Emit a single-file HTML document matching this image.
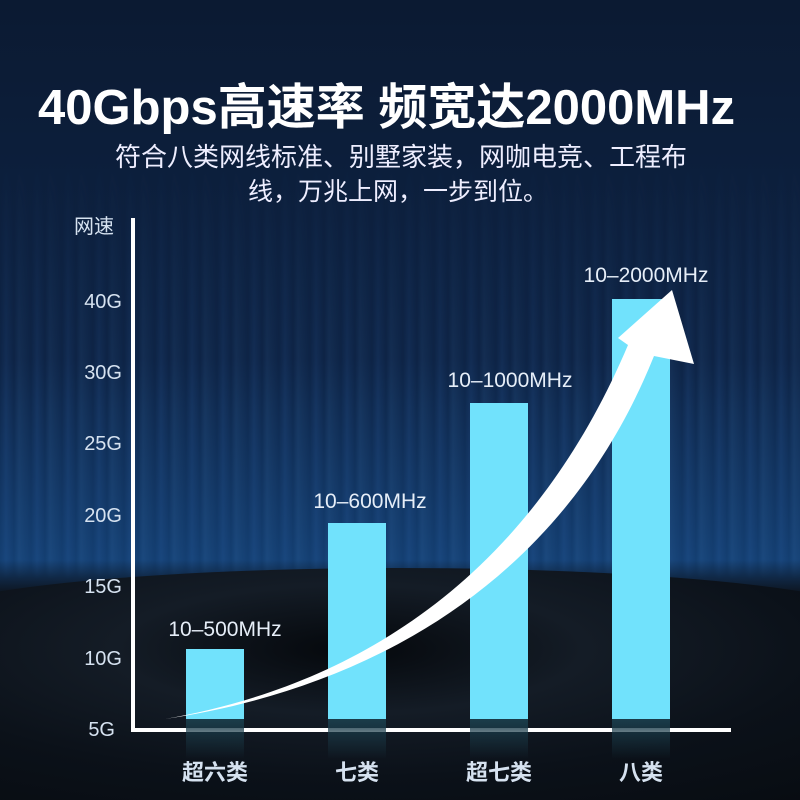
<!DOCTYPE html>
<html><head><meta charset="utf-8"><style>
html,body{margin:0;padding:0;width:800px;height:800px;overflow:hidden}
body{position:relative;font-family:"Liberation Sans","Noto Sans CJK SC",sans-serif;
background:linear-gradient(180deg,#0b1a32 0%,#0e2446 45%,#143f72 70%,#0d1622 74%,#0a1018 100%);}
.streaks{position:absolute;left:0;top:150px;width:800px;height:430px;opacity:.55;
background:repeating-linear-gradient(90deg,rgba(60,120,200,.0) 0px,rgba(60,120,200,.25) 6px,rgba(20,50,100,0) 14px,rgba(90,160,230,.18) 19px,rgba(0,0,0,0) 31px);
-webkit-mask:linear-gradient(180deg,transparent,#000 60%,#000 95%,transparent);}
.road{position:absolute;left:-100px;top:568px;width:1000px;height:232px;border-radius:50% 50% 0 0/25% 25% 0 0;background:radial-gradient(ellipse at 45% 35%,#05080c 0%,#141c26 30%,#0b1119 60%,#070b10 100%);}
.t{position:absolute;color:#fff;white-space:nowrap}
.yl{position:absolute;color:#d6e2f0;font-size:20px;width:60px;text-align:right}
.bar{position:absolute;background:#71e2fc;width:58px}
.ref{position:absolute;width:58px;height:40px;top:719px;background:linear-gradient(#1a3c4a,rgba(10,20,30,0))}
.bl{position:absolute;color:#e6eef8;font-size:21px;text-align:center;width:180px;white-space:nowrap}
.xl{position:absolute;color:#d6e2f0;font-size:22px;font-weight:bold;text-align:center;width:120px;top:755px}
</style></head><body>
<div class="streaks"></div>
<div class="road"></div>
<div class="t" style="left:38px;top:68px;font-size:49px;font-weight:bold;">40Gbps高速率 频宽达2000MHz</div>
<div class="t" style="left:115px;top:137px;font-size:26px;color:#eef">符合八类网线标准、别墅家装，网咖电竞、工程布</div>
<div class="t" style="left:248px;top:172px;font-size:25px;color:#eef">线，万兆上网，一步到位。</div>
<div class="t" style="left:74px;top:210px;font-size:20px;color:#d6e2f0">网速</div>
<div class="yl" style="top:291px;left:62px">40G</div>
<div class="yl" style="top:362px;left:62px">30G</div>
<div class="yl" style="top:433px;left:62px">25G</div>
<div class="yl" style="top:505px;left:62px">20G</div>
<div class="yl" style="top:576px;left:62px">15G</div>
<div class="yl" style="top:648px;left:62px">10G</div>
<div class="yl" style="top:719px;left:55px">5G</div>
<div style="position:absolute;left:131px;top:218px;width:4px;height:514px;background:#fff"></div>
<div style="position:absolute;left:131px;top:728px;width:600px;height:4px;background:#fff"></div>
<div class="bar" style="left:186px;top:649px;height:70px"></div>
<div class="bar" style="left:328px;top:523px;height:196px"></div>
<div class="bar" style="left:470px;top:403px;height:316px"></div>
<div class="bar" style="left:612px;top:299px;height:420px"></div>
<div class="ref" style="left:186px"></div><div class="ref" style="left:328px"></div><div class="ref" style="left:470px"></div><div class="ref" style="left:612px"></div>
<div class="bl" style="left:135px;top:618px">10–500MHz</div>
<div class="bl" style="left:280px;top:490px">10–600MHz</div>
<div class="bl" style="left:420px;top:369px">10–1000MHz</div>
<div class="bl" style="left:556px;top:264px">10–2000MHz</div>
<div class="xl" style="left:155px">超六类</div>
<div class="xl" style="left:297px">七类</div>
<div class="xl" style="left:439px">超七类</div>
<div class="xl" style="left:581px">八类</div>
<svg style="position:absolute;left:0;top:0" width="800" height="800">
<path d="M165 719 C330 690 520 600 628 345 L618 338 L672 290 L694 364 L654 356 C560 590 360 690 165 719 Z" fill="#fff"/>
</svg>
</body></html>
